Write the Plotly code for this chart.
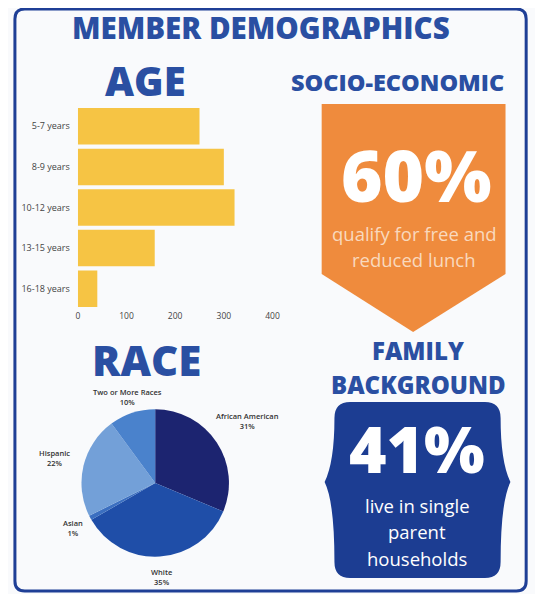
import math
import plotly.graph_objects as go

# page body has an 8px margin: figure is placed at (8, 8) in the window
OFF = 8
W, H = 543 - OFF, 594 - OFF

# ---------------- data ----------------
age_groups = ["5-7 years", "8-9 years", "10-12 years", "13-15 years", "16-18 years"]
age_counts = [250, 300, 322, 158, 40]
age_ticks = [0, 100, 200, 300, 400]

race_labels = ["African American", "White", "Asian", "Hispanic", "Two or More Races"]
race_pct = [31, 35, 1, 22, 10]

socio_pct = "60%"
socio_text = ["qualify for free and", "reduced lunch"]
family_pct = "41%"
family_text = ["live in single", "parent", "households"]

# ---------------- styling ----------------
BLUE = "#2a4fa2"
NAVY_BADGE = "#1c3d92"
ORANGE = "#ef8b3d"
YELLOW = "#f6c444"
race_colors = ["#1c2470", "#1f4ea8", "#3b6fc0", "#73a0d8", "#4a82cc"]
FONT = "Open Sans"


def px(x):
    return (x - OFF) / W


def py(y):
    return 1 - (y - OFF) / H


fig = go.Figure()

# ---- Age bar chart ----
fig.add_trace(go.Bar(
    x=age_counts, y=age_groups, orientation="h",
    marker=dict(color=YELLOW, line=dict(width=0)),
    xaxis="x", yaxis="y", showlegend=False, hoverinfo="x+y",
))

# ---- Race pie ----
cx, cy, r = 155.7, 483, 75
fig.add_trace(go.Pie(
    labels=race_labels, values=race_pct, sort=False, direction="clockwise",
    rotation=0, marker=dict(colors=race_colors, line=dict(width=0)),
    textinfo="none", showlegend=False,
    domain=dict(x=[px(cx - r), px(cx + r)], y=[py(cy + r + 0.5), py(cy - r - 0.5)]),
))

annotations = []
# pie labels positioned from data angles
label_factor = [1.5, 1.25, 1.27, 1.4, 1.2]
total = sum(race_pct)
cum = 0
for lab, v, f in zip(race_labels, race_pct, label_factor):
    mid = (cum + v / 2) / total * 2 * math.pi
    cum += v
    lx = cx + r * f * math.sin(mid)
    ly = cy - r * f * math.cos(mid)
    annotations.append(dict(
        x=px(lx), y=py(ly), xref="paper", yref="paper", showarrow=False,
        text=f"{lab}<br>{v}%", font=dict(family=FONT, size=7.5, color="#333333", weight=600),
        align="center", xanchor="center", yanchor="middle",
    ))


def txt(s, x, y, size, color, weight=400):
    annotations.append(dict(
        x=px(x), y=py(y), xref="paper", yref="paper", showarrow=False, text=s,
        font=dict(family=FONT, size=size, color=color, weight=weight),
        xanchor="center", yanchor="middle",
    ))


txt("MEMBER DEMOGRAPHICS", 263, 28, 29.5, BLUE, 800)
txt("AGE", 146, 80, 40, BLUE, 800)
txt("SOCIO-ECONOMIC", 402, 82, 23.5, BLUE, 800)
txt("RACE", 147, 359, 42, BLUE, 800)
txt("FAMILY", 423, 350, 24, BLUE, 800)
txt("BACKGROUND", 423, 384, 24, BLUE, 800)

txt(socio_pct, 421, 174, 71, "white", 800)
for i, s in enumerate(socio_text):
    txt(s, 419, 234 + i * 26, 18.5, "#f9d9bd")

txt(family_pct, 422, 448, 64, "white", 800)
for i, s in enumerate(family_text):
    txt(s, 422, 505 + i * 26.5, 18.5, "white")

# ---------------- shapes ----------------
def P(x, y):
    return f"{px(x):.5f},{py(y):.5f}"


shapes = []
# outer rounded border
bx0, by0, bx1, by1, rr = 13, 9, 533, 591, 10
border = (f"M {P(bx0 + rr, by0)} L {P(bx1 - rr, by0)} Q {P(bx1, by0)} {P(bx1, by0 + rr)} "
          f"L {P(bx1, by1 - rr)} Q {P(bx1, by1)} {P(bx1 - rr, by1)} L {P(bx0 + rr, by1)} "
          f"Q {P(bx0, by1)} {P(bx0, by1 - rr)} L {P(bx0, by0 + rr)} Q {P(bx0, by0)} {P(bx0 + rr, by0)} Z")
shapes.append(dict(type="path", xref="paper", yref="paper", path=border,
                   line=dict(color="#1f3f96", width=3), fillcolor="rgba(0,0,0,0)", layer="below"))

# orange arrow / pentagon
arrow = f"M {P(325, 104)} L {P(512, 104)} L {P(512, 274)} L {P(418, 332)} L {P(325, 274)} Z"
shapes.append(dict(type="path", xref="paper", yref="paper", path=arrow,
                   fillcolor=ORANGE, line=dict(width=0), layer="below"))

# blue badge with notched sides
x0, x1, y0, y1, c = 338, 507, 402, 578, 16
ym = 482
badge = (f"M {P(x0 + c, y0)} L {P(x1 - c, y0)} Q {P(x1, y0)} {P(x1, y0 + c)} "
         f"Q {P(x1, ym - 20)} {P(x1 + 10, ym)} Q {P(x1, ym + 20)} {P(x1, y1 - c)} "
         f"Q {P(x1, y1)} {P(x1 - c, y1)} L {P(x0 + c, y1)} Q {P(x0, y1)} {P(x0, y1 - c)} "
         f"Q {P(x0, ym + 20)} {P(x0 - 10, ym)} Q {P(x0, ym - 20)} {P(x0, y0 + c)} "
         f"Q {P(x0, y0)} {P(x0 + c, y0)} Z")
shapes.append(dict(type="path", xref="paper", yref="paper", path=badge,
                   fillcolor=NAVY_BADGE, line=dict(width=0), layer="below"))

fig.update_layout(
    width=W, height=H, autosize=False,
    margin=dict(l=0, r=0, t=0, b=0),
    paper_bgcolor="#f9fafc", plot_bgcolor="rgba(0,0,0,0)",
    bargap=0.1,
    xaxis=dict(domain=[px(77), px(275)], range=[0, 400], tickvals=age_ticks,
               showgrid=False, zeroline=False, showline=False, ticks="",
               tickfont=dict(family=FONT, size=8.5, color="#444444"), anchor="y"),
    yaxis=dict(domain=[py(309), py(106)], autorange="reversed", showgrid=False,
               zeroline=False, showline=False, ticks="", ticklabelstandoff=7,
               tickfont=dict(family=FONT, size=9, color="#444444"), anchor="x"),
    annotations=annotations,
    shapes=shapes,
)

fig.write_html("out.html")
